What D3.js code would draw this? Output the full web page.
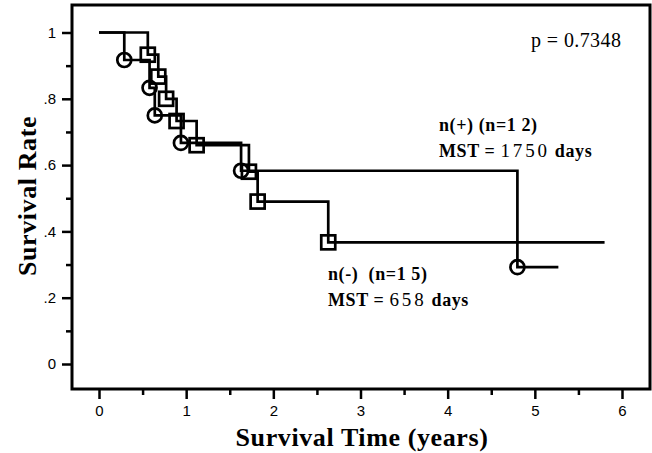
<!DOCTYPE html>
<html>
<head>
<meta charset="utf-8">
<script src="https://cdn.jsdelivr.net/npm/d3@7"></script>
<style>
  body { margin: 0; background: #fff; }
  svg { display: block; }
</style>
</head>
<body>
<div id="chart"></div>
<script>
// survival curves (time in years, survival rate)
var posTimes = [0.29, 0.58, 0.64, 0.94, 1.63, 4.80];
var posSurv = [0.917, 0.833, 0.75, 0.667, 0.583, 0.292];
var posEnd = 5.27;

var negTimes = [0.56, 0.68, 0.77, 0.89, 1.12, 1.72, 1.82, 2.63];
var negSurv = [0.933, 0.867, 0.8, 0.733, 0.66, 0.58, 0.49, 0.367];
var negEnd = 5.8;

var xTicks = [0, 1, 2, 3, 4, 5, 6];
var xMinor = [0.5, 1.5, 2.5, 3.5, 4.5, 5.5];
var yTicks = [0, 0.2, 0.4, 0.6, 0.8, 1];
var yTickLabels = ["0", ".2", ".4", ".6", ".8", "1"];
var yMinor = [0.1, 0.3, 0.5, 0.7, 0.9];

var svgWidth = 652;
var svgHeight = 453;
var frame = {left: 72, top: 5, right: 650, bottom: 389};

var svg = d3.select("#chart").append("svg").attr("width", svgWidth).attr("height", svgHeight);

var xScale = d3.scaleLinear().domain([0, 6]).range([99, 622]);
var yScale = d3.scaleLinear().domain([0, 1]).range([364, 32.5]);

// axes (ticks sit outside the frame)
var leftAxis = d3.axisLeft(yScale).tickValues(yTicks).tickSize(10).tickPadding(6)
    .tickFormat(function(d, i) { return yTickLabels[i]; });
var leftMinor = d3.axisLeft(yScale).tickValues(yMinor).tickSize(6).tickFormat("");
var bottomAxis = d3.axisBottom(xScale).tickValues(xTicks).tickSize(10).tickPadding(6).tickFormat(d3.format("d"));
var bottomMinor = d3.axisBottom(xScale).tickValues(xMinor).tickSize(6).tickFormat("");

function styleAxis(g) {
    g.select(".domain").remove();
    g.selectAll("line").attr("stroke", "#000").attr("stroke-width", 2.5);
    g.selectAll("text").attr("font-family", "Liberation Sans, Arial, sans-serif").attr("font-size", "15px").attr("fill", "#000");
}

svg.append("g").attr("transform", `translate(${frame.left},0)`).call(leftAxis).call(styleAxis);
svg.append("g").attr("transform", `translate(${frame.left},0)`).call(leftMinor).call(styleAxis);
svg.append("g").attr("transform", `translate(0,${frame.bottom})`).call(bottomAxis).call(styleAxis);
svg.append("g").attr("transform", `translate(0,${frame.bottom})`).call(bottomMinor).call(styleAxis);

svg.append("rect")
    .attr("x", frame.left).attr("y", frame.top)
    .attr("width", frame.right - frame.left).attr("height", frame.bottom - frame.top)
    .attr("fill", "none").attr("stroke", "#000").attr("stroke-width", 3);

// step curves
var stepLine = d3.line().x(d => xScale(d[0])).y(d => yScale(d[1])).curve(d3.curveStepAfter);

function curvePoints(times, surv, end) {
    var pts = [[0, 1]];
    times.forEach(function(t, i) { pts.push([t, surv[i]]); });
    pts.push([end, surv[surv.length - 1]]);
    return pts;
}

svg.append("path").attr("d", stepLine(curvePoints(negTimes, negSurv, negEnd)))
    .attr("fill", "none").attr("stroke", "#000").attr("stroke-width", 2.7);
svg.append("path").attr("d", stepLine(curvePoints(posTimes, posSurv, posEnd)))
    .attr("fill", "none").attr("stroke", "#000").attr("stroke-width", 2.7);

// markers
svg.selectAll(".sq").data(negTimes).enter().append("rect").attr("class", "sq")
    .attr("x", (d, i) => xScale(d) - 7).attr("y", (d, i) => yScale(negSurv[i]) - 7)
    .attr("width", 14).attr("height", 14)
    .attr("fill", "none").attr("stroke", "#000").attr("stroke-width", 2.7);

svg.selectAll(".ci").data(posTimes).enter().append("circle").attr("class", "ci")
    .attr("cx", d => xScale(d)).attr("cy", (d, i) => yScale(posSurv[i]))
    .attr("r", 7)
    .attr("fill", "none").attr("stroke", "#000").attr("stroke-width", 2.7);

// text
var serif = "Liberation Serif, Times New Roman, serif";

svg.append("text").attr("x", 531).attr("y", 47).attr("font-family", serif).attr("font-size", "20px")
    .attr("letter-spacing", "0.4px").text("p = 0.7348");

function mstLabel(x, y, line1, days) {
    var t1 = svg.append("text").attr("x", x).attr("y", y).attr("font-family", serif).attr("font-size", "18px")
        .attr("font-weight", "bold").attr("letter-spacing", "0.6px").attr("xml:space", "preserve").text(line1);
    var t2 = svg.append("text").attr("x", x).attr("y", y + 26).attr("font-family", serif).attr("font-size", "18px")
        .attr("font-weight", "bold").attr("letter-spacing", "0.6px").attr("xml:space", "preserve");
    t2.append("tspan").text("MST = ");
    t2.append("tspan").attr("font-weight", "normal").attr("font-size", "19px").attr("letter-spacing", "2.8px").text(days);
    t2.append("tspan").text(" days");
}
mstLabel(439, 131, "n(+) (n=1 2)", "1750");
mstLabel(328, 280, "n(-)  (n=1 5)", "658");

svg.append("text").attr("x", 362).attr("y", 446).attr("text-anchor", "middle")
    .attr("font-family", serif).attr("font-size", "26px").attr("font-weight", "bold").attr("letter-spacing", "0.6px")
    .text("Survival Time (years)");

svg.append("text").attr("transform", "translate(36,196) rotate(-90)").attr("text-anchor", "middle")
    .attr("font-family", serif).attr("font-size", "26px").attr("font-weight", "bold").attr("letter-spacing", "0.6px")
    .text("Survival Rate");
</script>
</body>
</html>
